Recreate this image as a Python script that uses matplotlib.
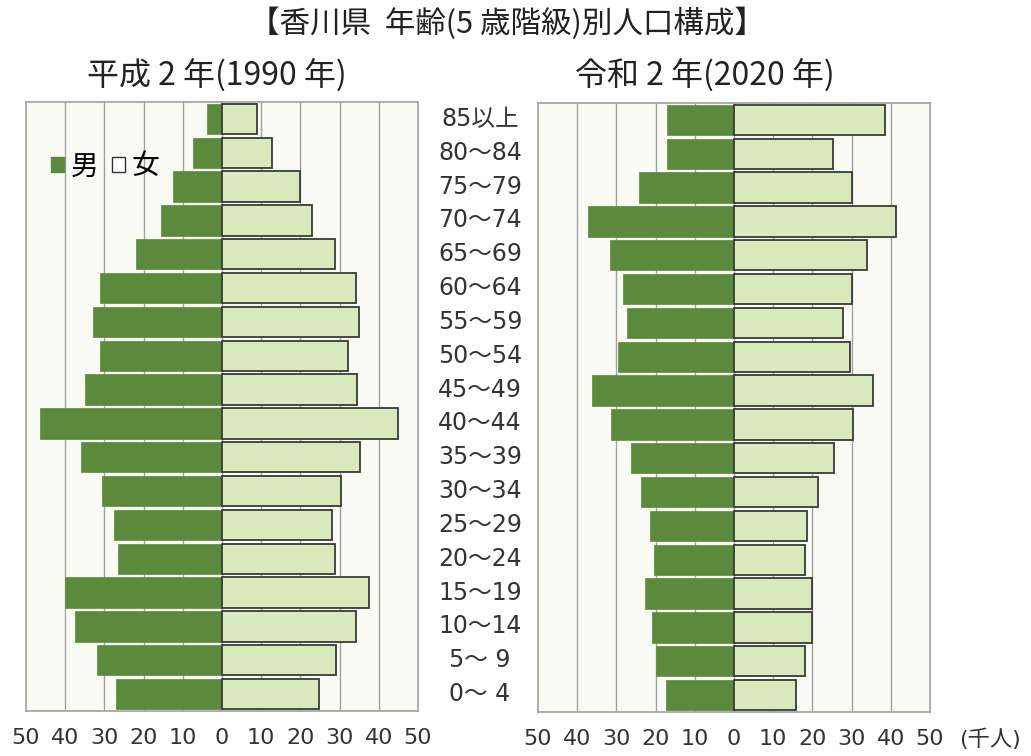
import matplotlib
matplotlib.use("Agg")
import matplotlib.pyplot as plt
import matplotlib.transforms as mtransforms
from matplotlib.patches import Patch

plt.rcParams['font.family'] = ['DejaVu Sans', 'Noto Sans CJK JP']

# age groups, bottom (0-4) to top (85+)
ages = ['0〜 4', '5〜 9', '10〜14', '15〜19', '20〜24', '25〜29', '30〜34',
        '35〜39', '40〜44', '45〜49', '50〜54', '55〜59', '60〜64', '65〜69',
        '70〜74', '75〜79', '80〜84', '85以上']

# thousand people (same order as ages)
male_1990 = [27, 32, 37.5, 40, 26.5, 27.5, 30.5, 36, 46.5, 35, 31, 33, 31,
             22, 15.5, 12.5, 7.5, 3.8]
female_1990 = [24.7, 29, 34.2, 37.5, 28.8, 28.1, 30.4, 35.2, 45, 34.4, 32.2,
               35, 34.2, 28.8, 23, 19.9, 12.8, 9]
male_2020 = [17.3, 19.9, 20.9, 22.7, 20.4, 21.4, 23.7, 26.3, 31.4, 36.2, 29.6,
             27.3, 28.3, 31.6, 37.2, 24.2, 17.1, 17.1]
female_2020 = [15.8, 18.1, 19.9, 19.9, 18.1, 18.6, 21.4, 25.5, 30.4, 35.5,
               29.6, 27.8, 30.1, 34, 41.3, 30.1, 25.3, 38.5]

tick_vals = list(range(-50, 51, 10))

MALE = '#5b8a3c'
FEMALE = '#d9e9bb'
GRID = '#a0a0a0'

fig = plt.figure(figsize=(10.31, 7.56), dpi=100)
fig.patch.set_facecolor('white')

ax1 = fig.add_axes([26 / 1031, 1 - 711 / 756, 392 / 1031, 609 / 756])
ax2 = fig.add_axes([538 / 1031, 1 - 712 / 756, 392 / 1031, 609 / 756])

ypos = list(range(len(ages)))


def draw_pyramid(ax, male, female):
    ax.set_facecolor('#fbfbf6')
    for v in tick_vals[1:-1]:
        ax.axvline(v, color=GRID, lw=1.0, zorder=0)
    ax.barh(ypos, [-m for m in male], height=0.9, color=MALE,
            edgecolor=MALE, lw=0.5, zorder=2)
    ax.barh(ypos, female, height=0.9, color=FEMALE,
            edgecolor='#3a3a3a', lw=1.3, zorder=2)
    ax.set_xlim(-50, 50)
    ax.set_ylim(-0.5, len(ages) - 0.5)
    ax.set_yticks([])
    ax.set_xticks(tick_vals)
    ax.set_xticklabels([str(abs(v)) for v in tick_vals], fontsize=16,
                       color='#333333')
    ax.tick_params(axis='x', length=0, pad=12)
    for s in ax.spines.values():
        s.set_color(GRID)
        s.set_linewidth(1.2)


draw_pyramid(ax1, male_1990, female_1990)
draw_pyramid(ax2, male_2020, female_2020)

# age labels between the two panels
trans = mtransforms.blended_transform_factory(fig.transFigure, ax1.transData)
for y, lab in zip(ypos, ages):
    ax1.text(480 / 1031, y, lab, transform=trans, ha='center', va='center',
             fontsize=17, color='#333333')

# legend
handles = [Patch(facecolor=MALE, edgecolor=MALE, label='男'),
           Patch(facecolor='white', edgecolor='#333333', label='女')]
ax1.legend(handles=handles, loc='upper left', bbox_to_anchor=(0.0, 0.96),
           frameon=False, ncol=2, handlelength=0.45, handleheight=0.45,
           handletextpad=0.25, columnspacing=0.5,
           prop={'family': 'Noto Sans CJK JP', 'size': 20})

# titles
fig.text(507 / 1031, 1 - 24 / 756, '【香川県  年齢(5 歳階級)別人口構成】',
         ha='center', va='center', fontsize=22, family='Noto Sans CJK JP',
         color='#222222')
fig.text(217 / 1031, 1 - 76 / 756, '平成 2 年(1990 年)', ha='center',
         va='center', fontsize=23, family='Noto Sans CJK JP', color='#222222')
fig.text(705 / 1031, 1 - 76 / 756, '令和 2 年(2020 年)', ha='center',
         va='center', fontsize=23, family='Noto Sans CJK JP', color='#222222')
fig.text(990 / 1031, 1 - 739 / 756, '(千人)', ha='center', va='center',
         fontsize=16, family=['DejaVu Sans', 'Noto Sans CJK JP'],
         color='#333333')

fig.savefig('out.png', dpi=100)
